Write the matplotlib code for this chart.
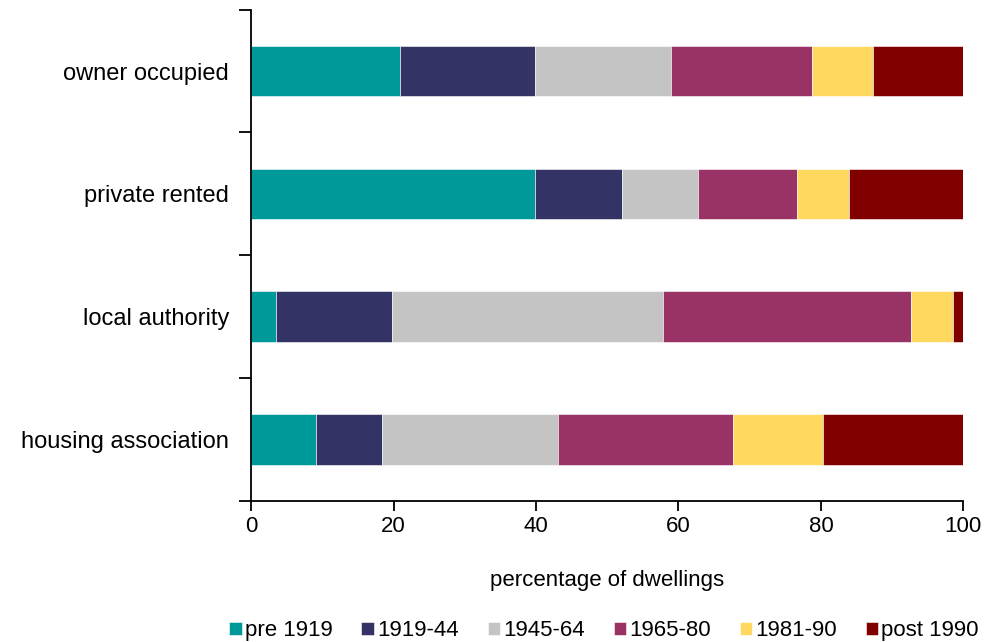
import numpy as np
import matplotlib.pyplot as plt
from matplotlib.ticker import FixedLocator

plt.rcParams['font.family'] = ['Liberation Sans', 'DejaVu Sans']

tenures = ['owner occupied', 'private rented', 'local authority', 'housing association']
periods = ['pre 1919', '1919-44', '1945-64', '1965-80', '1981-90', 'post 1990']
colors = ['#009999', '#333366', '#C4C4C4', '#993366', '#FFD95F', '#800000']

# percentage of dwellings in each age band, per tenure
pre_1919 = [20.9, 39.8, 3.5, 9.1]
y1919_44 = [18.9, 12.3, 16.3, 9.3]
y1945_64 = [19.1, 10.7, 38.0, 24.7]
y1965_80 = [19.9, 13.8, 34.8, 24.5]
y1981_90 = [8.5, 7.3, 5.9, 12.7]
post_1990 = [12.7, 16.1, 1.5, 19.7]
series = [pre_1919, y1919_44, y1945_64, y1965_80, y1981_90, post_1990]

fig = plt.figure(figsize=(9.87, 6.42), dpi=100)
ax = fig.add_axes([0.2545, 0.22, 0.7215, 0.765])

ypos = np.arange(len(tenures))[::-1]
left = np.zeros(len(tenures))
for name, vals, col in zip(periods, series, colors):
    ax.barh(ypos, vals, left=left, height=0.41, color=col, label=name,
            edgecolor='white', linewidth=0.4)
    left += np.array(vals)

ax.set_xlim(0, 100)
ax.set_ylim(-0.5, len(tenures) - 0.5)
ax.set_xticks([0, 20, 40, 60, 80, 100])
ax.set_yticks(ypos)
ax.set_yticklabels(tenures, fontsize=17)
ax.yaxis.set_minor_locator(FixedLocator(np.arange(-0.5, len(tenures), 1.0)))
ax.tick_params(axis='y', which='major', length=0, pad=16)
ax.tick_params(axis='y', which='minor', length=9, width=1.3)
ax.tick_params(axis='x', length=7, width=1.3, labelsize=16, pad=4)

for s in ['top', 'right']:
    ax.spines[s].set_visible(False)
for s in ['left', 'bottom']:
    ax.spines[s].set_linewidth(1.3)

ax.set_xlabel('percentage of dwellings', fontsize=16, labelpad=24)

fig.legend(loc='lower center', bbox_to_anchor=(0.612, -0.03), ncol=6,
           frameon=False, fontsize=16, handlelength=0.55, handleheight=0.55,
           handletextpad=0.15, columnspacing=1.3)

fig.savefig('out.png', dpi=100)
